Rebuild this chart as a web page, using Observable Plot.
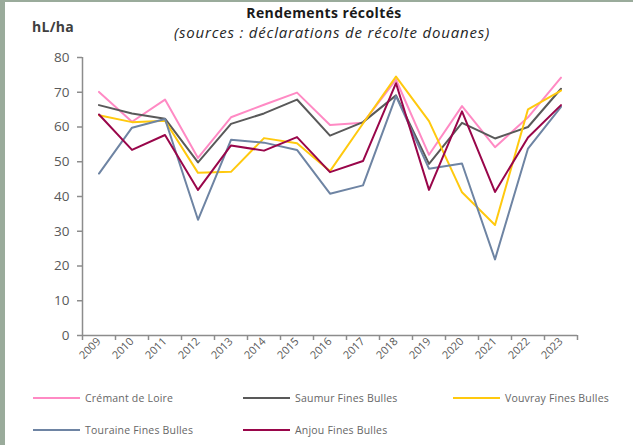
<!DOCTYPE html>
<html><head><meta charset="utf-8">
<script src="https://cdn.jsdelivr.net/npm/d3@7"></script>
<script src="https://cdn.jsdelivr.net/npm/@observablehq/plot@0.6"></script>
<style>
body{margin:0;background:#fff;}
#page{position:relative;width:633px;height:445px;background:#fff;overflow:hidden;font-family:"Open Sans",sans-serif;color:#595959;}
#bl{position:absolute;left:0;top:0;width:5px;height:445px;background:#9aab9b;z-index:3}
#bt{position:absolute;left:0;top:0;width:633px;height:2px;background:#9aab9b;z-index:3}
#chart{position:absolute;left:0;top:0}
.t{position:absolute;white-space:nowrap;line-height:1;}
#title{left:0;width:648px;text-align:center;top:6px;font-weight:700;font-size:14px;letter-spacing:0.4px;color:#1a1a1a;}
#sub{left:0;width:664px;text-align:center;top:25px;font-style:italic;font-size:15px;letter-spacing:0.8px;color:#262626;}
#unit{left:32px;top:20px;font-weight:700;font-size:14px;letter-spacing:0.3px;color:#404040;}
.lg{position:absolute;display:flex;align-items:center;font-size:10.5px;letter-spacing:0.2px;color:#666;white-space:nowrap;}
.sw{display:inline-block;width:47px;height:2.5px;margin-right:5px;}
</style>
</head><body>
<div id="page">
  <div id="bl"></div><div id="bt"></div>
  <div id="chart"></div>
  <div class="t" id="title">Rendements récoltés</div>
  <div class="t" id="sub">(sources : déclarations de récolte douanes)</div>
  <div class="t" id="unit">hL/ha</div>
  <div id="legend"></div>
</div>
<script>
const years = [2009,2010,2011,2012,2013,2014,2015,2016,2017,2018,2019,2020,2021,2022,2023];
const yTicks = [0,10,20,30,40,50,60,70,80];
const seriesNames = ["Crémant de Loire","Saumur Fines Bulles","Vouvray Fines Bulles","Touraine Fines Bulles","Anjou Fines Bulles"];
const seriesColors = ["#ff8ac4","#595959","#ffc90e","#6e84a3","#99064a"];
const cremant  = [70.1,61.5,67.9,51.1,62.8,66.4,69.9,60.6,61.2,73.6,52.0,66.0,54.2,62.8,74.2];
const saumur   = [66.3,63.9,62.4,49.8,60.9,63.9,67.9,57.5,61.4,69.1,49.4,61.2,56.7,60.0,71.0];
const vouvray  = [63.4,61.4,61.8,46.8,47.1,56.8,55.3,47.3,61.0,74.5,61.7,41.2,31.8,65.1,70.5];
const touraine = [46.6,59.8,62.3,33.3,56.3,55.5,53.4,40.8,43.2,68.9,48.0,49.5,21.9,53.8,65.8];
const anjou    = [63.6,53.4,57.7,41.9,54.7,53.2,57.1,47.0,50.2,72.6,41.9,64.5,41.3,57.0,66.3];
const seriesValues = [cremant, saumur, vouvray, touraine, anjou];

const data = seriesNames.flatMap((name, s) => years.map((year, i) => ({year, value: seriesValues[s][i], name})));
const bounds = [...years.map(y => y - 0.5), years[years.length - 1] + 0.5];
const axisColor = "#8c8c8c";

const chart = Plot.plot({
  width: 633, height: 380,
  marginLeft: 82, marginRight: 56, marginTop: 57, marginBottom: 45,
  x: {domain: [bounds[0], bounds[bounds.length - 1]]},
  y: {domain: [0, 80]},
  color: {domain: seriesNames, range: seriesColors},
  style: {fontFamily: "'Open Sans', sans-serif", fontSize: "13px", color: "#595959", background: "transparent"},
  marks: [
    Plot.axisY({ticks: yTicks, tickSize: 5, tickPadding: 8, label: null, stroke: axisColor, strokeWidth: 1.5, fontSize: 13.5}),
    Plot.axisX({ticks: bounds, tickFormat: () => "", tickSize: 5, label: null, stroke: axisColor, strokeWidth: 1.5}),
    Plot.axisX({ticks: years, tickFormat: d => String(d), tickSize: 0, tickPadding: 4, tickRotate: -45, label: null, fontSize: 11}),
    Plot.ruleY([0], {stroke: axisColor, strokeWidth: 1.5}),
    Plot.ruleX([bounds[0]], {y1: 0, y2: 80, stroke: axisColor, strokeWidth: 1.5}),
    Plot.line(data, {x: "year", y: "value", z: "name", stroke: "name", strokeWidth: 2})
  ]
});
document.getElementById("chart").appendChild(chart);

const legendPos = [[33,398],[243,398],[453,398],[33,430],[243,430]];
const lg = document.getElementById("legend");
seriesNames.forEach((name, i) => {
  const d = document.createElement("div");
  d.className = "lg";
  d.style.left = legendPos[i][0] + "px";
  d.style.top = (legendPos[i][1] - 7) + "px";
  d.style.height = "14px";
  const sw = document.createElement("span");
  sw.className = "sw";
  sw.style.background = seriesColors[i];
  d.appendChild(sw);
  d.appendChild(document.createTextNode(name));
  lg.appendChild(d);
});
</script>
</body></html>
